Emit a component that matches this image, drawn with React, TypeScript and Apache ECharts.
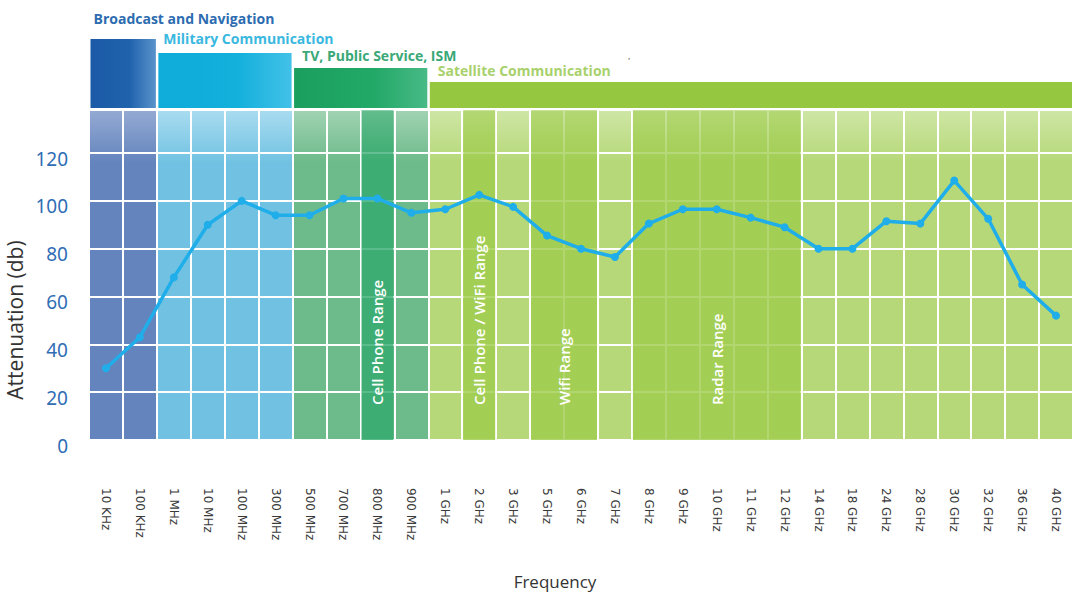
import React, { useEffect, useRef } from 'react';
import * as echarts from 'echarts';

// ---------- data ----------
const categories = [
  '10 KHz', '100 KHz', '1 MHz', '10 MHz', '100 MHz', '300 MHz', '500 MHz', '700 MHz', '800 MHz', '900 MHz',
  '1 GHz', '2 GHz', '3 GHz', '5 GHz', '6 GHz', '7 GHz', '8 GHz', '9 GHz', '10 GHz', '11 GHz', '12 GHz',
  '14 GHz', '18 GHz', '24 GHz', '28 GHz', '30 GHz', '32 GHz', '36 GHz', '40 GHz',
];
const attenuation = [
  30, 43, 68, 90, 100, 94, 94, 101, 101, 95,
  96.5, 102.5, 97.5, 85.5, 80, 76.5, 90.5, 96.5, 96.5, 93, 89,
  80, 80, 91.5, 90.5, 108.5, 92.5, 65, 52,
];
const Y_MIN = 0;
const Y_MAX = 138;
const Y_STEP = 20;

const sectionNames = ['Broadcast and Navigation', 'Military Communication', 'TV, Public Service, ISM', 'Satellite Communication'];
const sectionStart = [0, 2, 6, 10];
const sectionEnd = [1, 5, 9, 28];

const rangeNames = ['Cell Phone Range', 'Cell Phone / WiFi Range', 'Wifi Range', 'Radar Range'];
const rangeStart = [8, 11, 13, 16];
const rangeEnd = [8, 11, 14, 20];

// ---------- styles ----------
const sectionBase = ['#6484bd', '#71c2e2', '#6dba8a', '#b6d878'];
const sectionTop = ['#94aad3', '#a9dcf0', '#a1d3b3', '#cee6a5'];
const bannerStops = [
  ['#1b5aa6', '#2063ad', '#5a93cb'],
  ['#0fabd9', '#14b0dc', '#42c1e8'],
  ['#1a9f5e', '#22a867', '#48ba86'],
  ['#95c840', '#95c840', '#95c840'],
];
const bannerLabelColor = ['#2d6cb0', '#3ab8e0', '#3aa877', '#a8d16c'];
const bannerTopOffset = [71, 57, 42, 28];
const bannerLabelOffset = [92, 72, 55, 40];
const bannerLabelDx = [3, 5, 8, 8];
const rangeOverlay = ['49,170,110', '158,204,76', '158,204,76', '158,204,76'];

const sectionOf = (i: number) => sectionStart.findIndex((s, k) => i >= s && i <= sectionEnd[k]);

export default function App() {
  const ref = useRef<HTMLDivElement>(null);

  useEffect(() => {
    if (!ref.current) return;
    const chart = echarts.init(ref.current, undefined, { renderer: 'svg' });

    const bgData = categories.map((_, i) => {
      const k = sectionOf(i);
      return {
        value: Y_MAX,
        itemStyle: {
          color: new echarts.graphic.LinearGradient(0, 0, 0, 1, [
            { offset: 0, color: sectionTop[k] },
            { offset: 0.16, color: sectionBase[k] },
            { offset: 1, color: sectionBase[k] },
          ]),
        },
      };
    });

    const option: any = {
      animation: false,
      backgroundColor: '#ffffff',
      grid: { left: 89, top: 110, width: 991.8, height: 330 },
      xAxis: {
        type: 'category',
        data: categories,
        boundaryGap: true,
        z: 2,
        axisLine: { show: false },
        axisTick: { show: false },
        axisLabel: {
          interval: 0,
          rotate: -90,
          margin: 48,
          fontSize: 12,
          color: '#3a3a3a',
          fontFamily: 'DejaVu Sans',
        },
        splitLine: { show: true, interval: 0, lineStyle: { color: '#ffffff', width: 2 } },
      },
      yAxis: {
        type: 'value',
        min: Y_MIN,
        max: Y_MAX,
        interval: Y_STEP,
        z: 2,
        axisLine: { show: false },
        axisTick: { show: false },
        axisLabel: {
          margin: 21,
          formatter: (v: number) => (v % Y_STEP === 0 ? `{t|${v}}` : ''),
          rich: {
            t: {
              fontSize: 19,
              color: '#2f6db5',
              fontFamily: 'Noto Sans',
              padding: [11, 0, 0, 0],
            },
          },
        },
        splitLine: { show: true, lineStyle: { color: '#ffffff', width: 2 } },
      },
      series: [
        {
          type: 'bar',
          data: bgData,
          barWidth: '100%',
          barCategoryGap: '0%',
          silent: true,
          z: 1,
        },
        {
          type: 'custom',
          z: 3,
          silent: true,
          encode: { x: [0, 1], y: 2 },
          data: rangeNames.map((_, k) => [rangeStart[k], rangeEnd[k], k]),
          renderItem: (_params: any, api: any) => {
            const s = api.value(0);
            const e = api.value(1);
            const k = api.value(2);
            const band = api.size([1, 0])[0];
            const x0 = api.coord([s, 0])[0] - band / 2 + 1;
            const x1 = api.coord([e, 0])[0] + band / 2 - 1;
            const yTop = api.coord([s, Y_MAX])[1];
            const yBot = api.coord([s, 0])[1];
            const c = rangeOverlay[k];
            return {
              type: 'group',
              children: [
                {
                  type: 'rect',
                  shape: { x: x0, y: yTop, width: x1 - x0, height: yBot - yTop },
                  style: {
                    fill: new echarts.graphic.LinearGradient(0, 0, 0, 1, [
                      { offset: 0, color: `rgba(${c},0.55)` },
                      { offset: 0.16, color: `rgba(${c},0.8)` },
                      { offset: 1, color: `rgba(${c},0.8)` },
                    ]),
                  },
                },
                {
                  type: 'text',
                  x: (x0 + x1) / 2,
                  y: yBot - 35,
                  rotation: Math.PI / 2,
                  style: {
                    text: rangeNames[k],
                    fill: '#ffffff',
                    fontSize: 15,
                    fontWeight: 600,
                    fontFamily: 'Open Sans',
                    align: 'left',
                    verticalAlign: 'middle',
                  },
                },
              ],
            };
          },
        },
        {
          type: 'custom',
          z: 3,
          silent: true,
          clip: false,
          encode: { x: [0, 1], y: 2 },
          data: sectionNames.map((_, k) => [sectionStart[k], sectionEnd[k], k]),
          renderItem: (_params: any, api: any) => {
            const s = api.value(0);
            const e = api.value(1);
            const k = api.value(2);
            const band = api.size([1, 0])[0];
            const x0 = api.coord([s, 0])[0] - band / 2 + 1.5;
            const x1 = api.coord([e, 0])[0] + band / 2 - 1;
            const gTop = api.coord([s, Y_MAX])[1];
            const top = gTop - bannerTopOffset[k];
            const bot = gTop - 2;
            const st = bannerStops[k];
            return {
              type: 'group',
              children: [
                {
                  type: 'rect',
                  shape: { x: x0, y: top, width: x1 - x0, height: bot - top },
                  style: {
                    fill: new echarts.graphic.LinearGradient(0, 0, 1, 0, [
                      { offset: 0, color: st[0] },
                      { offset: 0.6, color: st[1] },
                      { offset: 1, color: st[2] },
                    ]),
                  },
                },
                {
                  type: 'text',
                  x: x0 + bannerLabelDx[k],
                  y: gTop - bannerLabelOffset[k],
                  style: {
                    text: sectionNames[k],
                    fill: bannerLabelColor[k],
                    fontSize: 14,
                    fontWeight: 700,
                    fontFamily: 'Open Sans',
                    align: 'left',
                    verticalAlign: 'middle',
                  },
                },
              ],
            };
          },
        },
        {
          type: 'line',
          data: attenuation,
          z: 5,
          symbol: 'circle',
          symbolSize: 8,
          lineStyle: { color: '#1faee9', width: 3.5 },
          itemStyle: { color: '#1faee9' },
        },
      ],
      graphic: [
        {
          type: 'text',
          x: 15,
          y: 320,
          rotation: Math.PI / 2,
          style: {
            text: 'Attenuation (db)',
            fill: '#333',
            fontSize: 21,
            fontFamily: 'Open Sans',
            align: 'center',
            verticalAlign: 'middle',
          },
        },
        {
          type: 'text',
          x: 555,
          y: 581,
          style: {
            text: 'Frequency',
            fill: '#333',
            fontSize: 17,
            fontFamily: 'Open Sans',
            align: 'center',
            verticalAlign: 'middle',
          },
        },
        {
          type: 'text',
          x: 629,
          y: 62,
          style: { text: '\u2019', fill: '#555', fontSize: 8, fontFamily: 'DejaVu Sans', align: 'center', verticalAlign: 'middle' },
        },
      ],
    };

    chart.setOption(option);
    return () => chart.dispose();
  }, []);

  return (
    <div
      ref={ref}
      style={{ position: 'absolute', left: 0, top: 0, width: 1073, height: 592 }}
    />
  );
}
